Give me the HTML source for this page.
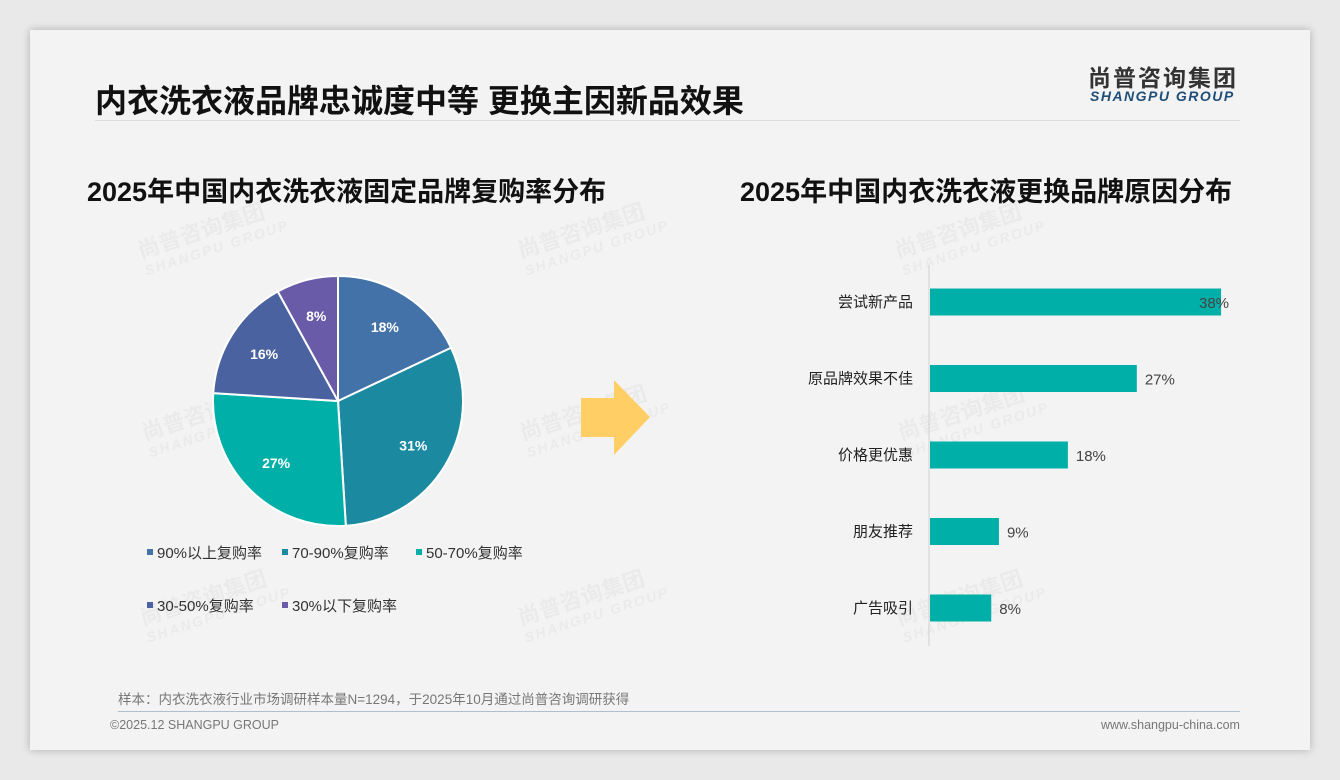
<!DOCTYPE html>
<html><head><meta charset="utf-8"><style>
body{margin:0;width:1340px;height:780px;background:#e9e9e9;font-family:"Liberation Sans","Noto Sans CJK SC",sans-serif;overflow:hidden}
#slide{position:absolute;left:30px;top:30px;width:1280px;height:720px;background:#f3f3f3;box-shadow:0 0 8px rgba(0,0,0,.25)}
.t{position:absolute;white-space:nowrap}
.wm{position:absolute;color:rgba(0,0,0,0.035);font-weight:bold;font-size:22px;transform:rotate(-18deg);line-height:20px}
.wm span{display:block;font-size:14px;letter-spacing:2px;font-style:italic}
</style></head><body>
<div id="slide">
<div class="t" style="left:65px;top:46px;font-size:32px;font-weight:bold;color:#111">内衣洗衣液品牌忠诚度中等 更换主因新品效果</div>
<div style="position:absolute;left:65px;top:90px;width:1145px;height:1px;background:#dcdcdc"></div>
<div class="t" style="left:1058px;top:29px;font-size:23px;font-weight:bold;color:#333;letter-spacing:2px">尚普咨询集团</div>
<div class="t" style="left:1060px;top:58px;font-size:14px;font-weight:bold;font-style:italic;color:#1f4e79;letter-spacing:1.5px">SHANGPU GROUP</div>
<div class="t" style="left:57px;top:140px;font-size:27px;font-weight:bold;color:#111">2025年中国内衣洗衣液固定品牌复购率分布</div>
<div class="t" style="left:710px;top:140px;font-size:27px;font-weight:bold;color:#111">2025年中国内衣洗衣液更换品牌原因分布</div>
<div class="wm" style="left:108px;top:188px">尚普咨询集团<span>SHANGPU GROUP</span></div>
<div class="wm" style="left:488px;top:188px">尚普咨询集团<span>SHANGPU GROUP</span></div>
<div class="wm" style="left:865px;top:188px">尚普咨询集团<span>SHANGPU GROUP</span></div>
<div class="wm" style="left:112px;top:370px">尚普咨询集团<span>SHANGPU GROUP</span></div>
<div class="wm" style="left:490px;top:370px">尚普咨询集团<span>SHANGPU GROUP</span></div>
<div class="wm" style="left:868px;top:370px">尚普咨询集团<span>SHANGPU GROUP</span></div>
<div class="wm" style="left:110px;top:555px">尚普咨询集团<span>SHANGPU GROUP</span></div>
<div class="wm" style="left:488px;top:555px">尚普咨询集团<span>SHANGPU GROUP</span></div>
<div class="wm" style="left:866px;top:555px">尚普咨询集团<span>SHANGPU GROUP</span></div>
<div class="t" style="left:88px;top:658px;font-size:13.5px;color:#777">样本：内衣洗衣液行业市场调研样本量N=1294，于2025年10月通过尚普咨询调研获得</div>
<div style="position:absolute;left:88px;top:681px;width:1122px;height:1px;background:#aebfcf"></div>
<div class="t" style="left:80px;top:688px;font-size:12.5px;color:#777">©2025.12 SHANGPU GROUP</div>
<div class="t" style="left:1071px;top:688px;font-size:12.5px;color:#777">www.shangpu-china.com</div>
</div>
<svg id="chart" width="1340" height="780" style="position:absolute;left:0;top:0"></svg>
<script>
const pieCategories=["90%以上复购率","70-90%复购率","50-70%复购率","30-50%复购率","30%以下复购率"];
const pieValues=[18,31,27,16,8];
const pieColors=["#4272a7","#1b8aa1","#00b0a8","#4a62a0","#6a5ba8"];
const barCategories=["尝试新产品","原品牌效果不佳","价格更优惠","朋友推荐","广告吸引"];
const barValues=[38,27,18,9,8];
const NS="http://www.w3.org/2000/svg";
const svg=document.getElementById('chart');
function mk(tag,attrs,parent){const e=document.createElementNS(NS,tag);for(const k in attrs)e.setAttribute(k,attrs[k]);(parent||svg).appendChild(e);return e;}
const cx=338,cy=401,r=125;
const total=pieValues.reduce((a,b)=>a+b,0);
let ang=0;
function pt(a,rr){return [cx+rr*Math.sin(a),cy-rr*Math.cos(a)];}
pieValues.forEach((v,i)=>{
 const a0=ang/total*2*Math.PI,a1=(ang+v)/total*2*Math.PI;ang+=v;
 const p0=pt(a0,r),p1=pt(a1,r);
 const s=mk('path',{d:`M${cx},${cy}L${p0[0]},${p0[1]}A${r},${r} 0 ${a1-a0>Math.PI?1:0} 1 ${p1[0]},${p1[1]}Z`,fill:pieColors[i],stroke:'#fff','stroke-width':2});
 
 
 const m=(a0+a1)/2,lp=pt(m,r*0.7);
 const t=mk('text',{x:lp[0],y:lp[1]+5,'text-anchor':'middle','font-size':14,'font-weight':'bold',fill:'#fff','font-family':'Liberation Sans, sans-serif'});
 t.textContent=v+'%';
 
 
});
const legPos=[[147,553],[282,553],[416,553],[147,606],[282,606]];
pieCategories.forEach((c,i)=>{
 const g=mk('g',{});
 
 
 mk('rect',{x:legPos[i][0],y:legPos[i][1]-4,width:6,height:6,fill:pieColors[i]},g);
 const t=mk('text',{x:legPos[i][0]+10,y:legPos[i][1]+5,'font-size':15,fill:'#333','font-family':'Liberation Sans, Noto Sans CJK SC, sans-serif'},g);
 t.textContent=c;
});
const ar=mk('path',{d:'M581,398 L614,398 L614,380 L650,417 L614,455 L614,437 L581,437Z',fill:'#ffcf66'});


const x0=929,pxPer=7.66,yTop=302,step=76.5,bh=27;
const ax=mk('line',{x1:x0,y1:265,x2:x0,y2:646,stroke:'#d0d0d0','stroke-width':1});


barValues.forEach((v,i)=>{
 const yc=yTop+i*step,w=v*pxPer;
 const b=mk('rect',{x:x0+1,y:yc-bh/2,width:w,height:bh,fill:'#00b0a8'});
 
 
 const lab=mk('text',{x:x0-16,y:yc+5,'text-anchor':'end','font-size':15,fill:'#222','font-family':'Liberation Sans, Noto Sans CJK SC, sans-serif'});
 lab.textContent=barCategories[i];
 
 
 const vx=Math.min(x0+w+9,1199);
 const vt=mk('text',{x:vx,y:yc+6,'font-size':15,fill:'#444','font-family':'Liberation Sans, sans-serif'});
 vt.textContent=v+'%';
 
 
});
</script>
</body></html>
